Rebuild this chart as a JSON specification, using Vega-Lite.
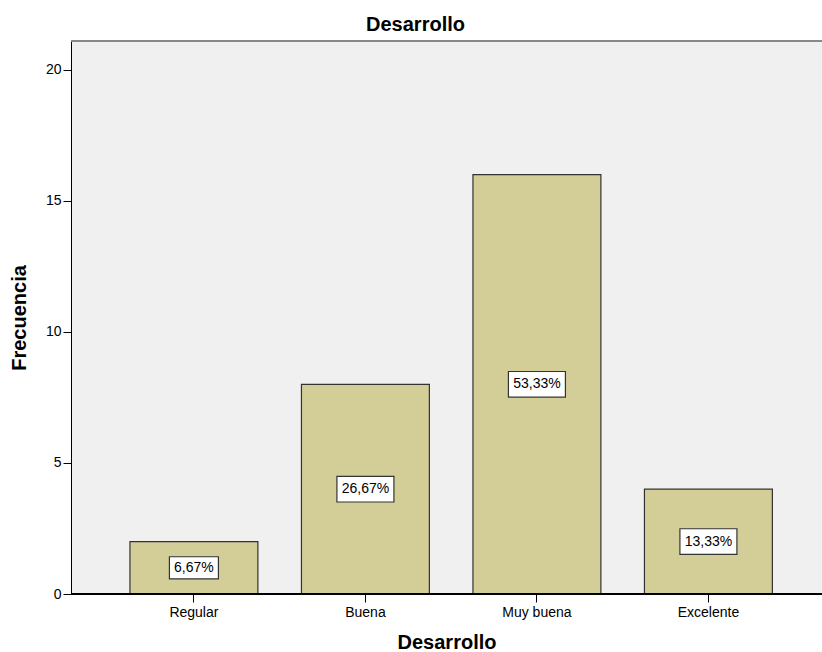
{
  "$schema": "https://vega.github.io/schema/vega-lite/v6.json",
  "autosize": {"type": "none"},
  "padding": {"left": 71, "top": 41, "right": 0, "bottom": 58},
  "width": 751,
  "height": 553,
  "background": "white",
  "config": {
    "font": "Liberation Sans",
    "view": {"fill": "#F0F0F0", "stroke": null}
  },
  "title": {
    "text": "Desarrollo",
    "fontSize": 20,
    "fontWeight": "bold",
    "font": "Liberation Sans",
    "color": "#000000",
    "anchor": "middle",
    "dx": -31,
    "offset": 5
  },
  "data": {
    "values": [
      {"cat": "Regular", "count": 2, "pct": "6,67%"},
      {"cat": "Buena", "count": 8, "pct": "26,67%"},
      {"cat": "Muy buena", "count": 16, "pct": "53,33%"},
      {"cat": "Excelente", "count": 4, "pct": "13,33%"}
    ]
  },
  "layer": [
    {
      "mark": {"type": "bar", "fill": "#D3CD98", "stroke": "#333333", "strokeWidth": 1.2},
      "encoding": {
        "x": {
          "field": "cat",
          "type": "nominal",
          "sort": ["Regular", "Buena", "Muy buena", "Excelente"],
          "scale": {"paddingInner": 0.254, "paddingOuter": 0.3165, "align": 0.543},
          "axis": {
            "title": "Desarrollo",
            "titleFontSize": 20,
            "titleFontWeight": "bold",
            "titleColor": "#000000",
            "titlePadding": 13,
            "labelAngle": 0,
            "labelFontSize": 14,
            "labelColor": "#000000",
            "labelPadding": 3,
            "tickColor": "#000000",
            "tickSize": 8,
            "domain": false,
            "grid": false
          }
        },
        "y": {
          "field": "count",
          "type": "quantitative",
          "scale": {"domain": [0, 21.1], "nice": false},
          "axis": {
            "title": "Frecuencia",
            "titleFontSize": 20,
            "titleFontWeight": "bold",
            "titleColor": "#000000",
            "titlePadding": 16,
            "values": [0, 5, 10, 15, 20],
            "labelFontSize": 14,
            "labelColor": "#000000",
            "labelPadding": 2,
            "tickColor": "#000000",
            "tickSize": 8,
            "domainColor": "#000000",
            "grid": false
          }
        }
      }
    },
    {
      "mark": {"type": "rule", "color": "#000000", "strokeWidth": 1.5},
      "encoding": {"y": {"datum": 0, "type": "quantitative", "scale": {"domain": [0, 21.1], "nice": false}, "axis": null}}
    },
    {
      "mark": {"type": "rule", "color": "#888888", "strokeWidth": 2},
      "encoding": {"y": {"datum": 21.1, "type": "quantitative", "scale": {"domain": [0, 21.1], "nice": false}, "axis": null}}
    },
    {
      "mark": {
        "type": "point",
        "shape": "M-1,-0.45L1,-0.45L1,0.45L-1,0.45Z",
        "filled": true,
        "fill": "#FFFFFF",
        "stroke": "#333333",
        "strokeWidth": 1.2,
        "opacity": 1
      },
      "encoding": {
        "x": {"field": "cat", "type": "nominal", "sort": ["Regular", "Buena", "Muy buena", "Excelente"]},
        "y": {"field": "count", "type": "quantitative", "scale": {"domain": [0, 42.2], "nice": false}, "axis": null},
        "size": {"condition": {"test": "datum.cat === 'Regular'", "value": 2401}, "value": 3249}
      }
    },
    {
      "mark": {"type": "text", "fontSize": 14, "color": "#000000", "baseline": "middle", "align": "center"},
      "encoding": {
        "x": {"field": "cat", "type": "nominal", "sort": ["Regular", "Buena", "Muy buena", "Excelente"]},
        "y": {"field": "count", "type": "quantitative", "scale": {"domain": [0, 42.2], "nice": false}, "axis": null},
        "text": {"field": "pct"}
      }
    }
  ],
  "resolve": {"scale": {"y": "independent"}}
}
